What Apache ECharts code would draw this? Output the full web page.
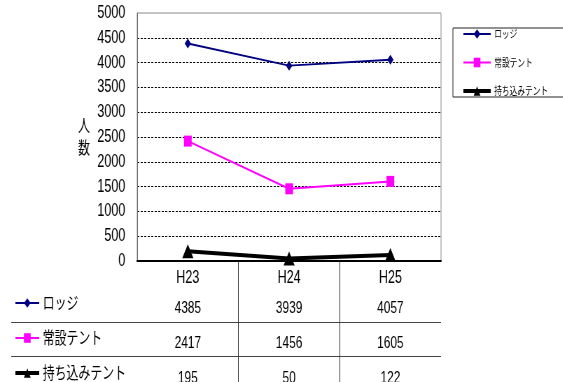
<!DOCTYPE html>
<html>
<head>
<meta charset="utf-8">
<script src="https://cdn.jsdelivr.net/npm/echarts@6/dist/echarts.min.js"></script>
<style>
  html, body { margin: 0; padding: 0; background: #fff; overflow: hidden; }
  /* drawn wide, then narrowed to give the condensed lettering */
  #chart { width: 804px; height: 382px; transform: scaleX(0.7); transform-origin: 0 0; }
</style>
</head>
<body>
<div id="chart"></div>
<script>
// 年度別 利用者数
const categories = ['H23', 'H24', 'H25'];
const seriesNames = ['ロッジ', '常設テント', '持ち込みテント'];
const lodge = [4385, 3939, 4057];
const fixedTent = [2417, 1456, 1605];
const ownTent = [195, 50, 122];
const yMin = 0, yMax = 5000, yStep = 500;
const yTitle = '人数';

const FONT = "'Liberation Sans', Arial, 'Noto Sans CJK JP', sans-serif";
const valuesByRow = [lodge, fixedTent, ownTent];

// table cells: [category index, row index, value]
const tableCells = [];
valuesByRow.forEach((vals, r) => {
  vals.forEach((v, c) => tableCells.push([c, r, v]));
});

const hiddenValueAxis = (i) => ({
  type: 'value', gridIndex: i, min: 0, max: 1, show: false
});

const chart = echarts.init(document.getElementById('chart'), null, { renderer: 'canvas' });
chart.setOption({
  animation: false,
  textStyle: { fontFamily: FONT, color: '#000' },
  grid: [
    // plot area
    { left: 196, top: 13, width: 434, height: 248, show: true, borderColor: '#888', borderWidth: 1, outerBoundsMode: 'none' },
    // table row rules (the last row runs past the bottom edge)
    { left: 16, top: 288, width: 614, height: 102, outerBoundsMode: 'none' },
    // table column rules
    { left: 196, top: 261, width: 434, height: 130, outerBoundsMode: 'none' },
    // table values
    { left: 196, top: 291, width: 434, height: 105, outerBoundsMode: 'none' }
  ],
  legend: [
    {
      orient: 'vertical',
      left: 647, top: 28, height: 120,
      padding: [0, 24, 0, 13],
      itemWidth: 39, itemHeight: 12, itemGap: 16.5,
      borderColor: '#222', borderWidth: 1,
      textStyle: { fontFamily: "'Noto Sans CJK JP', sans-serif", fontSize: 11, lineHeight: 12, color: '#000' },
      data: [
        { name: seriesNames[0] },
        { name: seriesNames[1] },
        { name: seriesNames[2], lineStyle: { width: 4 } }
      ],
      selectedMode: false
    },
    {
      orient: 'vertical',
      left: 20, top: 294, height: 150,
      padding: 0,
      itemWidth: 34, itemHeight: 12, itemGap: 17,
      textStyle: { fontFamily: "'Noto Sans CJK JP', sans-serif", fontSize: 17, lineHeight: 18, color: '#000' },
      data: [
        { name: seriesNames[0] },
        { name: seriesNames[1] },
        { name: seriesNames[2], lineStyle: { width: 4 } }
      ],
      selectedMode: false
    }
  ],
  xAxis: [
    {
      type: 'category', gridIndex: 0, data: categories, boundaryGap: true,
      axisLine: { show: true, lineStyle: { color: '#000', width: 2 } },
      axisTick: { show: false },
      axisLabel: { fontSize: 18, color: '#000', margin: 8, fontFamily: FONT },
      splitLine: { show: false }
    },
    hiddenValueAxis(1),
    {
      type: 'category', gridIndex: 2, data: categories, boundaryGap: true,
      axisLine: { show: false }, axisTick: { show: false }, axisLabel: { show: false },
      splitLine: { show: true, showMinLine: false, showMaxLine: false, lineStyle: { color: '#333', width: 1 } }
    },
    {
      type: 'category', gridIndex: 3, data: categories, boundaryGap: true,
      axisLine: { show: false }, axisTick: { show: false }, axisLabel: { show: false },
      splitLine: { show: false }
    }
  ],
  yAxis: [
    {
      type: 'value', gridIndex: 0, min: yMin, max: yMax, interval: yStep,
      name: yTitle.split('').join('\n'),
      nameLocation: 'middle', nameRotate: 0, nameGap: 76,
      nameTextStyle: {
        fontFamily: "'Noto Sans CJK JP', sans-serif", fontSize: 17, lineHeight: 22,
        color: '#000', align: 'center', verticalAlign: 'middle'
      },
      axisLine: { show: true, lineStyle: { color: '#666', width: 1 } },
      axisTick: { show: false },
      axisLabel: { fontSize: 18, color: '#000', margin: 17, fontFamily: FONT, formatter: (v) => String(v) },
      splitLine: {
        show: true, showMinLine: false, showMaxLine: false,
        lineStyle: { color: '#000', width: 1, type: [3, 2] }
      }
    },
    {
      type: 'category', gridIndex: 1, data: seriesNames, boundaryGap: true,
      axisLine: { show: false }, axisTick: { show: false }, axisLabel: { show: false },
      splitLine: { show: true, showMinLine: false, showMaxLine: false, lineStyle: { color: '#444', width: 1 } }
    },
    hiddenValueAxis(2),
    {
      type: 'category', gridIndex: 3, data: seriesNames, inverse: true, boundaryGap: true,
      axisLine: { show: false }, axisTick: { show: false }, axisLabel: { show: false },
      splitLine: { show: false }
    }
  ],
  series: [
    {
      name: seriesNames[0], type: 'line', xAxisIndex: 0, yAxisIndex: 0,
      data: lodge, color: '#000080',
      symbol: 'diamond', symbolSize: [9, 10], showAllSymbol: true,
      lineStyle: { width: 2, color: '#000080' },
      itemStyle: { color: '#000080' }
    },
    {
      name: seriesNames[1], type: 'line', xAxisIndex: 0, yAxisIndex: 0,
      data: fixedTent, color: '#ff00ff',
      symbol: 'rect', symbolSize: [11, 11], showAllSymbol: true,
      lineStyle: { width: 2, color: '#ff00ff' },
      itemStyle: { color: '#ff00ff' }
    },
    {
      name: seriesNames[2], type: 'line', xAxisIndex: 0, yAxisIndex: 0,
      data: ownTent, color: '#000',
      symbol: 'triangle', symbolSize: [16, 14], showAllSymbol: true,
      lineStyle: { width: 4, color: '#000' },
      itemStyle: { color: '#000' }
    },
    {
      name: 'table', type: 'custom', xAxisIndex: 3, yAxisIndex: 3,
      coordinateSystem: 'cartesian2d', silent: true,
      data: tableCells,
      encode: { x: 0, y: 1 },
      renderItem: (params, api) => {
        const pt = api.coord([api.value(0), api.value(1)]);
        return {
          type: 'text',
          x: pt[0], y: pt[1],
          style: {
            text: String(api.value(2)),
            fontSize: 17, fontFamily: FONT, fill: '#000',
            align: 'center', verticalAlign: 'middle'
          }
        };
      }
    }
  ]
});
</script>
</body>
</html>
